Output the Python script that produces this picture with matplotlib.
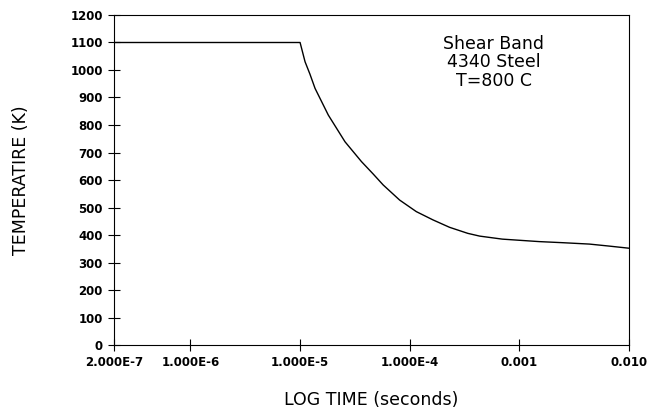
import matplotlib
matplotlib.use("Agg")
import matplotlib.pyplot as plt

# values
time_s = [2.0e-7, 1.0e-6, 5.0e-6, 1.0e-5, 1.11e-5, 1.23e-5, 1.37e-5, 1.81e-5,
          2.57e-5, 3.63e-5, 4.64e-5, 5.73e-5, 8.1e-5, 1.15e-4, 1.63e-4,
          2.31e-4, 3.39e-4, 4.35e-4, 7.0e-4, 1.52e-3, 2.5e-3, 4.36e-3,
          6.5e-3, 1.0e-2]
temp_k = [1100, 1100, 1100, 1100, 1030, 985, 933, 836,
          739, 667, 622, 582, 527, 485, 455,
          428, 406, 396, 385, 376, 372, 367,
          360, 352]

xticks = [2e-7, 1e-6, 1e-5, 1e-4, 1e-3, 1e-2]
xlabels = ["2.000E-7", "1.000E-6", "1.000E-5", "1.000E-4", "0.001", "0.010"]
yticks = list(range(0, 1201, 100))

fig = plt.figure(figsize=(6.47, 4.12), dpi=100)
ax = fig.add_axes([0.176, 0.1626, 0.796, 0.801])
ax.plot(time_s, temp_k, color="black", lw=1.0)
ax.set_xscale("log")
ax.set_xlim(2e-7, 1e-2)
ax.set_ylim(0, 1200)
ax.set_xticks(xticks)
ax.set_xticklabels(xlabels)
ax.minorticks_off()
ax.set_yticks(yticks)
for lab in ax.get_xticklabels() + ax.get_yticklabels():
    lab.set_fontweight("bold")
ax.tick_params(direction="inout", length=8, width=0.8, labelsize=8.5, pad=4)
for sp in ax.spines.values():
    sp.set_linewidth(0.8)

ax.set_xlabel("LOG TIME (seconds)", fontsize=12.5, labelpad=16)
ax.set_ylabel("TEMPERATIRE (K)", fontsize=12.5, labelpad=29)

ax.text(0.738, 0.94, "Shear Band\n4340 Steel\nT=800 C", transform=ax.transAxes,
        ha="center", va="top", fontsize=12.5, linespacing=1.05)

fig.savefig("out.png", dpi=100)
